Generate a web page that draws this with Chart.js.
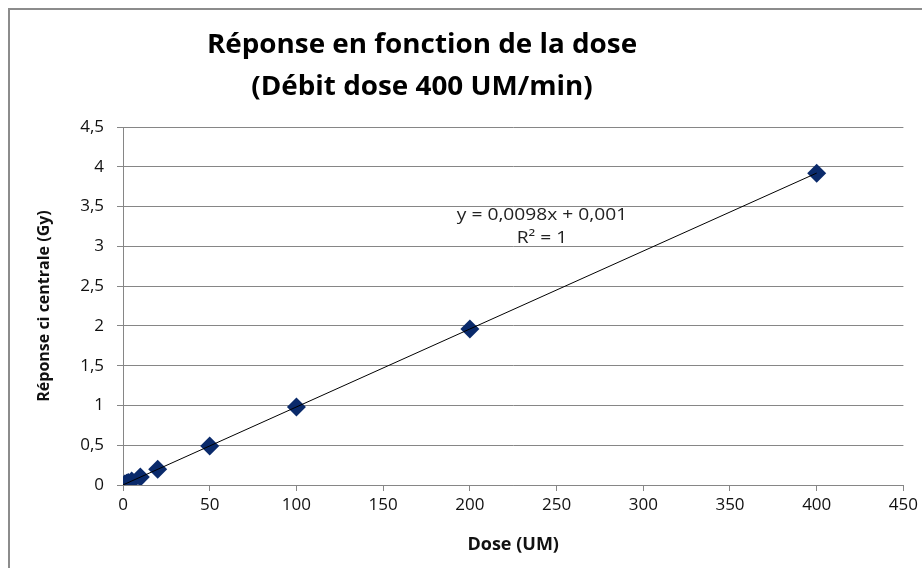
<!DOCTYPE html>
<html>
<head>
<meta charset="utf-8">
<script src="https://cdn.jsdelivr.net/npm/chart.js@4/dist/chart.umd.min.js"></script>
<style>
  html, body { margin: 0; padding: 0; background: #fff; }
  #wrap { width: 922px; height: 568px; }
</style>
</head>
<body>
<div id="wrap"><canvas id="doseChart" width="922" height="568"></canvas></div>
<script>
// Measured dose points (UM) and central chamber response (Gy)
const doses = [1, 2, 3, 5, 10, 20, 50, 100, 200, 400];
const responses = [0.011, 0.021, 0.03, 0.05, 0.099, 0.197, 0.49, 0.98, 1.96, 3.92];

// Linear fit shown on the chart
const slope = 0.0098;
const intercept = 0.001;
const fitRange = [0, 400];

const titleLines = ["Réponse en fonction de la dose", "(Débit dose 400 UM/min)"];
const fitLabel = ["y = 0,0098x + 0,001", "R² = 1"];

const gridGrey = "#868686";
const markerBlue = "#0a2a6b";
const fontFamily = "'Open Sans', Lato, sans-serif";

const scatterPoints = doses.map((d, i) => ({ x: d, y: responses[i] }));
const fitPoints = fitRange.map(x => ({ x: x, y: slope * x + intercept }));

const comma = v => String(v).replace(".", ",");

// text drawn slightly widened, like the rest of the sheet
function wideText(ctx, text, x, y, stretch) {
  ctx.save();
  ctx.translate(x, y);
  ctx.scale(stretch, 1);
  ctx.fillText(text, 0, 0);
  ctx.restore();
}

// frame, title and equation text
const decorations = {
  id: "decorations",
  beforeDraw(chart) {
    const ctx = chart.ctx;
    ctx.save();
    ctx.fillStyle = "#fff";
    ctx.fillRect(0, 0, chart.width, chart.height);
    ctx.strokeStyle = "#8c8c8c";
    ctx.lineWidth = 2;
    ctx.strokeRect(9, 9, 1000, 1000);
    ctx.restore();
  },
  afterDraw(chart) {
    const ctx = chart.ctx;
    ctx.save();
    ctx.fillStyle = "#000";
    ctx.textAlign = "center";
    ctx.textBaseline = "middle";
    ctx.font = "bold 26px " + fontFamily;
    wideText(ctx, titleLines[0], 422, 46, 1.07);
    wideText(ctx, titleLines[1], 422, 88, 1.07);
    ctx.font = "16px " + fontFamily;
    ctx.fillStyle = "#222";
    wideText(ctx, fitLabel[0], 542, 215, 1.2);
    wideText(ctx, fitLabel[1], 542, 238, 1.2);
    ctx.restore();
  }
};

new Chart(document.getElementById("doseChart"), {
  type: "scatter",
  data: {
    datasets: [
      {
        type: "line",
        label: "Linéaire",
        data: fitPoints,
        borderColor: "#000",
        borderWidth: 1,
        pointRadius: 0,
        fill: false,
        order: 0
      },
      {
        label: "Réponse",
        data: scatterPoints,
        pointStyle: "rectRot",
        pointRadius: 9.5,
        pointHoverRadius: 9.5,
        backgroundColor: markerBlue,
        borderColor: markerBlue,
        borderWidth: 0,
        order: 1
      }
    ]
  },
  options: {
    responsive: false,
    animation: false,
    layout: { padding: { top: 127, right: 16, bottom: 0, left: 0 } },
    plugins: {
      legend: { display: false },
      tooltip: { enabled: false }
    },
    scales: {
      x: {
        type: "linear",
        min: 0,
        max: 450,
        ticks: { stepSize: 50, color: "#111", padding: 4, font: { family: fontFamily, size: 17 } },
        grid: { drawOnChartArea: false, drawTicks: true, tickLength: 6, color: gridGrey },
        border: { color: gridGrey, width: 1 },
        title: {
          display: true,
          text: "Dose (UM)",
          color: "#111",
          font: { family: fontFamily, size: 18, weight: "bold" },
          padding: { top: 0, bottom: 12 }
        },
        afterFit(scale) { scale.height = 83; }
      },
      y: {
        min: 0,
        max: 4.5,
        ticks: { stepSize: 0.5, color: "#111", padding: 13, font: { family: fontFamily, size: 17 }, callback: comma },
        grid: { color: gridGrey, tickLength: 6, lineWidth: 1 },
        border: { color: gridGrey, width: 1 },
        title: {
          display: true,
          text: "Réponse ci centrale (Gy)",
          color: "#111",
          font: { family: fontFamily, size: 16, weight: "bold" },
          padding: { top: 35, bottom: 0 }
        },
        afterFit(scale) { scale.width = 123; }
      }
    }
  },
  plugins: [decorations]
});
</script>
</body>
</html>
